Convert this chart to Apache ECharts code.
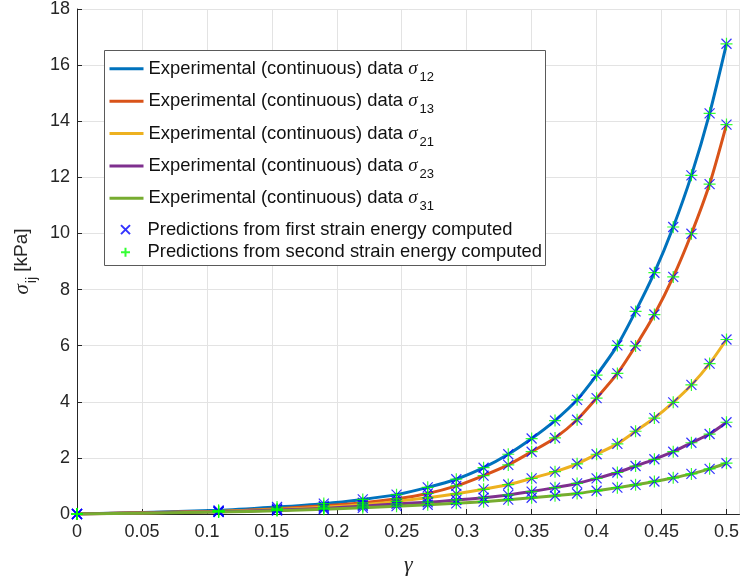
<!DOCTYPE html>
<html>
<head>
<meta charset="utf-8">
<script src="https://cdn.jsdelivr.net/npm/echarts@6/dist/echarts.min.js"></script>
<style>
  html, body { margin: 0; padding: 0; background: #fff; }
  #chart { width: 742px; height: 582px; }
</style>
</head>
<body>
<div id="chart"></div>
<script>
// shear strain values where the predictions were computed
const gamma = [0, 0.109, 0.154, 0.19, 0.22, 0.246, 0.27, 0.292, 0.313, 0.332, 0.35,
  0.368, 0.385, 0.4, 0.416, 0.43, 0.4445, 0.459, 0.473, 0.487, 0.5]

// stresses [kPa]
const sigma12 = [0, 0.13, 0.25, 0.37, 0.52, 0.69, 0.95, 1.24, 1.65, 2.13, 2.69,
  3.33, 4.07, 4.95, 6.01, 7.22, 8.6, 10.23, 12.07, 14.28, 16.76]
const sigma13 = [0, 0.1, 0.19, 0.29, 0.4, 0.54, 0.73, 1.0, 1.37, 1.75, 2.22,
  2.71, 3.36, 4.13, 5.01, 5.99, 7.11, 8.45, 9.99, 11.76, 13.88]
const sigma21 = [0, 0.09, 0.16, 0.24, 0.33, 0.45, 0.58, 0.72, 0.88, 1.05, 1.27,
  1.51, 1.79, 2.13, 2.5, 2.95, 3.42, 3.98, 4.6, 5.36, 6.22]
const sigma23 = [0, 0.08, 0.14, 0.2, 0.28, 0.36, 0.42, 0.5, 0.58, 0.68, 0.8,
  0.94, 1.09, 1.27, 1.48, 1.71, 1.95, 2.22, 2.54, 2.85, 3.27]
const sigma31 = [0, 0.07, 0.12, 0.17, 0.22, 0.28, 0.33, 0.38, 0.44, 0.51, 0.58,
  0.65, 0.73, 0.83, 0.94, 1.04, 1.16, 1.29, 1.43, 1.61, 1.81]

const subscripts = ['12', '13', '21', '23', '31']
const curves = [sigma12, sigma13, sigma21, sigma23, sigma31]
const lineColors = ['#0072BD', '#D95319', '#EDB120', '#7E2F8E', '#77AC30']

const predFirst = 'Predictions from first strain energy computed'
const predSecond = 'Predictions from second strain energy computed'

const toPoints = (vals) => gamma.map((g, i) => [g, vals[i]])
const allPoints = curves.reduce((acc, c) => acc.concat(toPoints(c)), [])

const lineSeries = curves.map((c, i) => ({
  name: 'exp' + subscripts[i],
  type: 'line',
  data: toPoints(c),
  showSymbol: false,
  symbol: 'none',
  smooth: 0.25,
  lineStyle: { width: 3, color: lineColors[i] },
  itemStyle: { color: lineColors[i] },
  z: 2
}))

const legendText = {
  color: '#111',
  rich: {
    a: { fontFamily: 'Liberation Sans', fontSize: 18.4, color: '#111' },
    s: { fontFamily: 'Liberation Serif', fontStyle: 'italic', fontSize: 19, color: '#111' },
    sub: { fontFamily: 'Liberation Sans', fontSize: 13, padding: [17, 0, 0, 2], color: '#111' },
    b: { fontFamily: 'Liberation Sans', fontSize: 18.4, color: '#111' }
  }
}

const chart = echarts.init(document.getElementById('chart'))
chart.setOption({
  animation: false,
  grid: { left: 77, top: 4, right: 1, bottom: 68 },
  // legend frame
  graphic: [{
    type: 'rect',
    z: 5,
    shape: { x: 104.5, y: 50.5, width: 441, height: 215 },
    style: { fill: '#fff', stroke: '#5a5a5a', lineWidth: 1 }
  }],
  legend: [
    {
      orient: 'vertical',
      left: 104,
      top: 54.7,
      z: 10,
      padding: [1, 4, 0, 4],
      itemGap: 4.35,
      itemWidth: 34,
      itemHeight: 32.6,
      lineStyle: { width: 3 },
      data: subscripts.map(s => ({ name: 'exp' + s, itemStyle: { opacity: 0 } })),
      formatter: (name) => '{a|Experimental (continuous) data }{s|σ}{sub|' + name.slice(3) + '}',
      textStyle: legendText
    },
    {
      orient: 'vertical',
      left: 116,
      top: 220.6,
      z: 10,
      padding: [0, 4, 0, 4],
      itemGap: 4.7,
      itemWidth: 34,
      itemHeight: 9,
      data: [predFirst, predSecond],
      formatter: '{b|{name}}',
      textStyle: legendText
    }
  ],
  xAxis: {
    type: 'value',
    min: 0,
    max: 0.51,
    interval: 0.05,
    name: 'γ',
    nameLocation: 'middle',
    nameGap: 40,
    nameTextStyle: { fontFamily: 'Liberation Serif', fontStyle: 'italic', fontSize: 22, color: '#262626' },
    axisLine: { lineStyle: { color: '#262626', width: 1 } },
    axisTick: { inside: true, length: 5, lineStyle: { color: '#262626' } },
    axisLabel: {
      showMaxLabel: false,
      margin: 9,
      fontFamily: 'Liberation Sans',
      fontSize: 18,
      color: '#262626'
    },
    splitLine: { show: true, lineStyle: { color: '#e3e3e3', width: 1 } }
  },
  yAxis: {
    type: 'value',
    min: 0,
    max: 18,
    interval: 2,
    name: '{s|σ}{sub|ij}{t| [kPa]}',
    nameLocation: 'middle',
    nameGap: 36,
    nameTextStyle: {
      color: '#262626',
      rich: {
        s: { fontFamily: 'Liberation Serif', fontStyle: 'italic', fontSize: 21, color: '#262626' },
        sub: { fontFamily: 'Liberation Sans', fontSize: 14, padding: [20, 0, 0, 1], color: '#262626' },
        t: { fontFamily: 'Liberation Sans', fontSize: 19, color: '#262626' }
      }
    },
    axisLine: { show: true, lineStyle: { color: '#262626', width: 1 } },
    axisTick: { show: true, inside: true, length: 5, lineStyle: { color: '#262626' } },
    axisLabel: { margin: 7, fontFamily: 'Liberation Sans', fontSize: 18, color: '#262626' },
    splitLine: { show: true, lineStyle: { color: '#e3e3e3', width: 1 } }
  },
  series: lineSeries.concat([
    {
      name: predFirst,
      type: 'scatter',
      data: allPoints,
      symbol: 'path://M0 0L10 10M10 0L0 10',
      symbolSize: 10,
      itemStyle: { color: '#0000ff', borderColor: '#0000ff', borderWidth: 1.2 },
      z: 3
    },
    {
      name: predSecond,
      type: 'scatter',
      data: allPoints,
      symbol: 'path://M5 0L5 10M0 5L10 5',
      symbolSize: 12,
      itemStyle: { color: '#00ff00', borderColor: '#00ff00', borderWidth: 1.2 },
      z: 4
    }
  ])
})
</script>
</body>
</html>
